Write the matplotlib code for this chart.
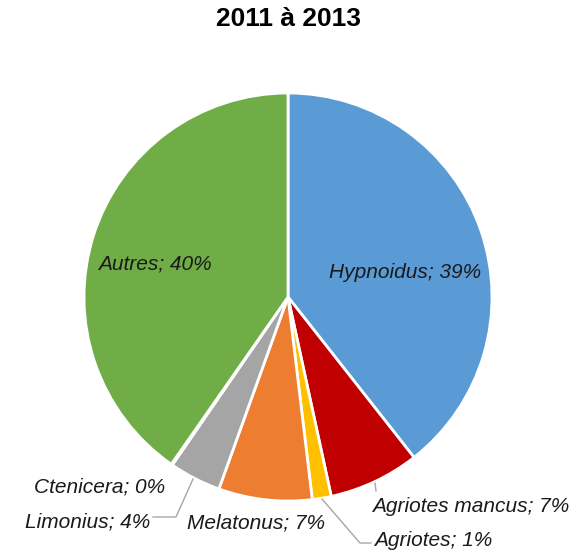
import matplotlib.pyplot as plt

plt.rcParams['font.family'] = ['Liberation Sans', 'DejaVu Sans']

# data
taxa = ['Hypnoidus', 'Agriotes mancus', 'Agriotes', 'Melatonus', 'Limonius', 'Ctenicera', 'Autres']
shares = [39.4, 7.2, 1.5, 7.4, 4.1, 0.1, 40.3]
shown_pct = ['39%', '7%', '1%', '7%', '4%', '0%', '40%']
colors = ['#5B9BD5', '#C00000', '#FFC000', '#ED7D31', '#A5A5A5', '#4472C4', '#70AD47']

W, H = 575, 552
fig = plt.figure(figsize=(W / 100, H / 100), dpi=100)
ax = fig.add_axes([0, 0, 1, 1])

cx, cy, r = 288, H - 297, 204
ax.pie(shares, colors=colors, startangle=90, counterclock=False,
       center=(cx, cy), radius=r, frame=True,
       wedgeprops=dict(edgecolor='white', linewidth=2))
ax.set_xlim(0, W)
ax.set_ylim(0, H)
ax.set_aspect('equal')
ax.axis('off')

# label placement (pixel coords, y from top), alignment, optional leader
label_pos = {
    'Hypnoidus': (405, 272, 'center', None),
    'Autres': (155, 264, 'center', None),
    'Agriotes mancus': (372, 507, 'left', [(375, 483), (376, 491)]),
    'Agriotes': (374, 541, 'left', [(322, 499), (360, 543), (371, 543)]),
    'Melatonus': (256, 523, 'center', None),
    'Limonius': (150, 522, 'right', [(193, 479), (176, 517), (153, 517)]),
    'Ctenicera': (165, 487, 'right', None),
}

for name, pct in zip(taxa, shown_pct):
    x, y, ha, leader = label_pos[name]
    ax.text(x, H - y, f'{name}; {pct}', ha=ha, va='center',
            fontsize=15, style='italic', color='#1a1a1a')
    if leader:
        ax.plot([p[0] for p in leader], [H - p[1] for p in leader],
                color='#A6A6A6', lw=1)

fig.text(288 / W, 1 - 19 / H, '2011 à 2013', ha='center', va='center',
         fontsize=19, fontweight='bold')

fig.savefig('out.png', dpi=100)
